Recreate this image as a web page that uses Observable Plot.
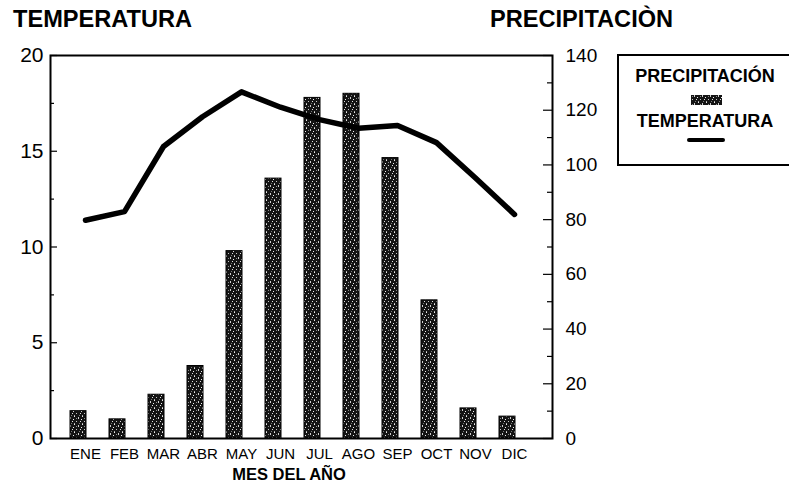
<!DOCTYPE html>
<html><head><meta charset="utf-8">
<script src="https://cdn.jsdelivr.net/npm/d3@7"></script>
<script src="https://cdn.jsdelivr.net/npm/@observablehq/plot@0.6"></script>
<style>
body{margin:0;background:#fff;font-family:"Liberation Sans",Arial,sans-serif;}
#wrap{position:relative;width:789px;height:484px;overflow:hidden;background:#fff;}
#chart{position:absolute;left:0;top:0;}
#overlay{position:absolute;left:0;top:0;}
</style></head><body>
<svg width="0" height="0" style="position:absolute">
  <defs>
    <pattern id="speckle" patternUnits="userSpaceOnUse" width="8" height="8">
      <rect width="8" height="8" fill="#141414"/>
      <rect x="1" y="0" width="1" height="1" fill="#e8e8e8"/>
      <rect x="5" y="1" width="1" height="2" fill="#cfcfcf"/>
      <rect x="0" y="3" width="1" height="1" fill="#f0f0f0"/>
      <rect x="3" y="5" width="1" height="1" fill="#c8c8c8"/>
      <rect x="7" y="5" width="1" height="1" fill="#e0e0e0"/>
      <rect x="3" y="2" width="1" height="1" fill="#8a8a8a"/>
      <rect x="1" y="7" width="1" height="1" fill="#b0b0b0"/>
      <rect x="6" y="7" width="1" height="1" fill="#7a7a7a"/>
    </pattern>
  </defs>
</svg>
<div id="wrap">
  <div id="chart"></div>
  <svg id="overlay" width="789" height="484"></svg>
</div>
<script>
const months = ["ENE","FEB","MAR","ABR","MAY","JUN","JUL","AGO","SEP","OCT","NOV","DIC"];
const precipitacion = [10, 7, 16, 26.5, 68.5, 95, 124.5, 126, 102.5, 50.5, 11, 8];
const temperatura = [11.4, 11.85, 15.25, 16.8, 18.1, 17.3, 16.65, 16.2, 16.35, 15.45, 13.6, 11.7];
const leftTicks = [0, 5, 10, 15, 20];
const leftMinorTicks = [2.5, 7.5, 12.5, 17.5];
const rightTicks = [0, 20, 40, 60, 80, 100, 120, 140];
const rightMinorTicks = [10, 30, 50, 70, 90, 110, 130];
const ratio = 7; // 140 mm of precipitation ↔ 20 °C

const data = months.map((m, i) => ({month: m, precip: precipitacion[i], temp: temperatura[i]}));

const W = 789, ML = 50, MR = 237;
const frameW = W - ML - MR;

const chart = Plot.plot({
  width: W,
  height: 484,
  marginLeft: ML,
  marginRight: MR,
  marginTop: 55,
  marginBottom: 46,
  style: {fontFamily: "'Liberation Sans', Arial, sans-serif", color: "#000", background: "transparent"},
  x: {type: "band", domain: months, range: [63.3, 535.7], paddingInner: 0.58, paddingOuter: 0.29, label: null, axis: null},
  y: {domain: [0, 20], label: null, axis: null},
  marks: [
    Plot.barY(data, {x: "month", y: d => d.precip / ratio, fill: "url(#speckle)", stroke: "#000", strokeWidth: 1, dx: -7}),
    Plot.line(data, {x: "month", y: "temp", stroke: "#000", strokeWidth: 5.5, strokeLinejoin: "round", strokeLinecap: "round"}),
    Plot.frame({stroke: "#000", strokeWidth: 2}),
    // left axis: inward ticks
    Plot.tickY(leftTicks, {y: d => d, insetRight: frameW - 7, stroke: "#000", strokeWidth: 1.2}),
    Plot.tickY(leftMinorTicks, {y: d => d, insetRight: frameW - 4, stroke: "#000", strokeWidth: 1.2}),
    Plot.axisY(leftTicks, {anchor: "left", tickSize: 0, tickPadding: 7, fontSize: 21, label: null}),
    // right axis (precipitation): inward ticks
    Plot.tickY(rightTicks, {y: d => d / ratio, insetLeft: frameW - 9, stroke: "#000", strokeWidth: 1.2}),
    Plot.tickY(rightMinorTicks, {y: d => d / ratio, insetLeft: frameW - 5, stroke: "#000", strokeWidth: 1.2}),
    Plot.text(rightTicks, {y: d => d / ratio, text: d => String(d), frameAnchor: "right", dx: 13, textAnchor: "start", fontSize: 19, fill: "#000"}),
    // x axis
    Plot.axisX({tickSize: 0, tickPadding: 10, fontSize: 15, label: null})
  ]
});
document.getElementById("chart").appendChild(chart);

// titles, axis label and legend
const ov = d3.select("#overlay");
const font = "'Liberation Sans', Arial, sans-serif";
ov.append("text").attr("x", 13).attr("y", 27).attr("font-family", font).attr("font-weight", "bold").attr("font-size", 23.6).text("TEMPERATURA");
ov.append("text").attr("x", 490).attr("y", 27).attr("font-family", font).attr("font-weight", "bold").attr("font-size", 23.6).text("PRECIPITACIÒN");
ov.append("text").attr("x", 289).attr("y", 480).attr("text-anchor", "middle").attr("font-family", font).attr("font-weight", "bold").attr("font-size", 16.5).text("MES DEL AÑO");

const lg = ov.append("g").attr("transform", "translate(617,54)");
lg.append("rect").attr("x", 1).attr("y", 1).attr("width", 200).attr("height", 110).attr("fill", "#fff").attr("stroke", "#000").attr("stroke-width", 2);
lg.append("text").attr("x", 88).attr("y", 28).attr("text-anchor", "middle").attr("font-family", font).attr("font-weight", "bold").attr("font-size", 18).text("PRECIPITACIÓN");
lg.append("rect").attr("x", 74).attr("y", 41).attr("width", 31).attr("height", 10).attr("fill", "url(#speckle)");
lg.append("text").attr("x", 88).attr("y", 73).attr("text-anchor", "middle").attr("font-family", font).attr("font-weight", "bold").attr("font-size", 18).text("TEMPERATURA");
lg.append("line").attr("x1", 72).attr("x2", 106).attr("y1", 86).attr("y2", 86).attr("stroke", "#000").attr("stroke-width", 4).attr("stroke-linecap", "round");
</script>
</body></html>
